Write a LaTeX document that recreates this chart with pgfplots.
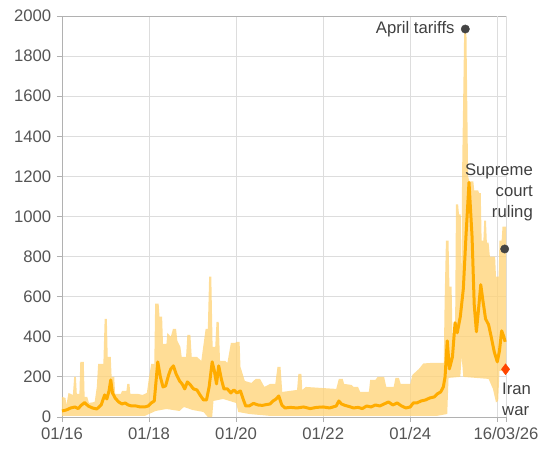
\documentclass[border=0pt]{standalone}
\usepackage{fontspec}
\setmainfont{Liberation Sans}
\usepackage{pgfplots}
\pgfplotsset{compat=1.18}

\definecolor{band}{RGB}{255,212,120}
\definecolor{amber}{RGB}{255,172,0}
\definecolor{txt}{RGB}{85,85,85}
\definecolor{note}{RGB}{64,64,64}
\definecolor{dot}{RGB}{68,68,68}
\definecolor{iran}{RGB}{255,69,0}
\definecolor{gridc}{RGB}{221,221,221}

% x = years since 01/2016
\pgfplotstableread{
x y
0.00 30
0.10 35
0.20 45
0.30 50
0.37 42
0.45 60
0.52 72
0.60 55
0.70 45
0.80 40
0.90 60
0.98 110
1.03 90
1.08 130
1.12 185
1.16 120
1.22 95
1.30 75
1.38 65
1.45 70
1.52 60
1.60 55
1.70 55
1.80 50
1.90 50
1.98 55
2.05 70
2.12 80
2.20 275
2.26 200
2.32 150
2.38 155
2.45 210
2.50 240
2.56 255
2.62 215
2.70 180
2.76 165
2.82 140
2.88 175
2.95 160
3.02 140
3.10 135
3.17 110
3.25 85
3.32 85
3.38 150
3.45 275
3.50 230
3.55 165
3.60 255
3.66 190
3.72 140
3.80 140
3.88 120
3.95 135
4.02 120
4.10 130
4.16 90
4.22 55
4.30 55
4.40 68
4.50 60
4.60 58
4.70 62
4.78 65
4.85 80
4.92 90
4.98 105
5.05 60
5.12 45
5.25 48
5.40 45
5.55 50
5.70 42
5.85 48
6.00 50
6.15 45
6.30 55
6.36 80
6.42 65
6.50 58
6.60 52
6.70 45
6.80 48
6.90 42
7.00 55
7.10 50
7.20 60
7.30 55
7.40 65
7.50 75
7.60 60
7.70 70
7.80 55
7.90 45
8.00 50
8.07 70
8.15 70
8.25 80
8.35 85
8.45 95
8.55 100
8.62 115
8.70 125
8.76 150
8.80 200
8.85 380
8.90 240
8.97 300
9.03 470
9.08 420
9.15 500
9.22 640
9.28 900
9.35 1170
9.42 900
9.47 560
9.52 425
9.57 540
9.62 660
9.67 580
9.73 490
9.80 460
9.86 400
9.93 325
10.00 275
10.05 330
10.10 430
10.15 400
10.18 375
}\smoothed

% daily range: upper edge forward, lower edge backward
\pgfplotstableread{
x y
0.00 100
0.08 95
0.10 60
0.15 120
0.25 110
0.28 200
0.32 200
0.34 115
0.40 115
0.42 275
0.50 275
0.52 100
0.58 100
0.62 70
0.75 75
0.80 150
0.83 265
0.95 265
0.98 490
1.03 490
1.05 300
1.12 300
1.14 200
1.20 200
1.22 115
1.35 115
1.38 130
1.48 130
1.50 165
1.55 165
1.57 115
1.75 115
1.85 110
1.95 120
2.00 200
2.05 265
2.12 265
2.14 565
2.22 565
2.24 500
2.30 500
2.32 365
2.40 365
2.42 420
2.50 400
2.55 440
2.62 440
2.65 380
2.72 350
2.75 300
2.85 300
2.88 410
2.95 410
2.98 300
3.10 300
3.20 280
3.30 440
3.35 440
3.38 700
3.43 700
3.46 350
3.52 350
3.55 475
3.60 475
3.63 280
3.75 280
3.80 270
3.88 370
3.98 370
4.02 375
4.08 375
4.10 250
4.20 180
4.35 170
4.45 190
4.55 190
4.65 150
4.78 165
4.90 165
4.95 250
5.02 250
5.06 125
5.40 135
5.43 215
5.50 215
5.52 135
5.60 150
5.95 145
6.30 140
6.36 190
6.45 190
6.48 165
6.65 160
6.70 150
6.80 150
6.85 125
7.05 125
7.08 185
7.20 185
7.25 200
7.40 200
7.45 150
7.62 150
7.66 195
7.74 195
7.78 165
8.00 165
8.05 210
8.20 240
8.30 267
8.50 270
8.77 270
8.79 580
8.82 880
8.88 880
8.90 650
8.95 650
8.97 420
9.03 420
9.05 1060
9.10 1060
9.12 1010
9.16 1010
9.18 600
9.19 1200
9.24 1940
9.29 1940
9.33 1200
9.36 1175
9.45 1175
9.47 1130
9.56 1130
9.58 1117
9.62 1117
9.64 880
9.68 880
9.70 980
9.74 980
9.76 870
9.80 870
9.83 800
9.95 800
9.97 700
10.03 700
10.05 880
10.10 880
10.12 950
10.20 950
10.20 230
10.05 230
10.02 80
9.97 73
9.90 140
9.80 190
9.22 200
9.18 300
9.15 200
8.88 195
8.85 15
8.60 5
4.80 5
4.30 15
4.05 25
4.00 70
3.70 90
3.48 80
3.45 0
3.35 0
3.25 25
3.00 35
2.80 50
2.70 30
2.40 40
2.15 30
2.00 15
1.90 5
1.00 5
0.00 5
}\range

\begin{document}
\fontsize{16.7bp}{21bp}\selectfont
\begin{tikzpicture}
\path[use as bounding box] (-62bp,-34bp) rectangle (479bp,417bp);
\begin{axis}[
  at={(0,0)}, anchor=south west,
  scale only axis, width=444bp, height=401bp,
  xmin=0, xmax=10.2, ymin=0, ymax=2000,
  xtick={0,2,4,6,8}, xticklabels={01/16,01/18,01/20,01/22,01/24},
  extra x ticks={10,10.2}, extra x tick labels={,16/03/26},
  ytick={0,200,...,2000},
  /pgf/number format/assume math mode=true,
  /pgf/number format/1000 sep={},
  tick label style={font=\fontsize{16.7bp}{20bp}\selectfont, text=txt},
  grid=major, grid style={gridc, line width=0.9bp},
  axis line style={gridc!80!black, line width=0.8bp},
  tick align=outside, major tick length=5bp,
  tick style={gridc!80!black, line width=0.8bp},
  xtick pos=bottom, ytick pos=left,
  clip=false,
]
\addplot[fill=band, fill opacity=0.78, draw=none] table {\range};
\addplot[amber, line width=3bp, line join=round] table {\smoothed};
\addplot[only marks, mark=*, mark size=4.2bp, color=dot] coordinates {(9.265,1935) (10.17,838)};
\addplot[only marks, mark=diamond*, mark size=5.5bp, color=iran] coordinates {(10.19,238)};
\node[anchor=east, text=note, xshift=-5bp] at (axis cs:9.265,1935) {April tariffs};
\node[anchor=north east, align=right, text=note, inner sep=0pt, xshift=27bp] at (axis cs:10.2,1262) {Supreme\\court\\ruling};
\node[anchor=north west, align=left, text=note, inner sep=0pt, xshift=-4bp] at (axis cs:10.2,173) {Iran\\war};
\end{axis}
\end{tikzpicture}
\end{document}
